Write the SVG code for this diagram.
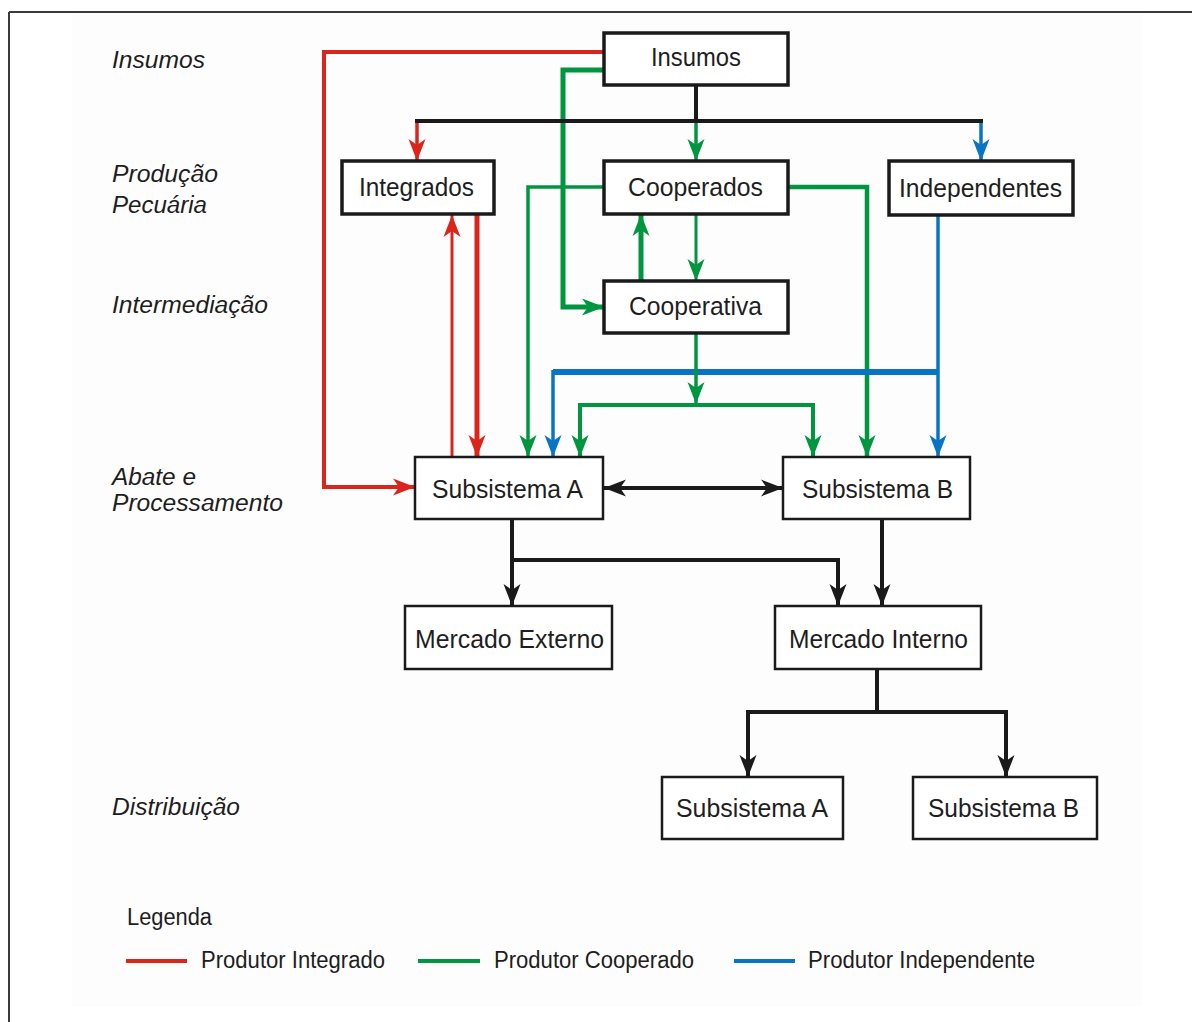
<svg xmlns="http://www.w3.org/2000/svg" width="1192" height="1022" viewBox="0 0 1192 1022">
<style>
.bg{fill:#ffffff}
.box{fill:#ffffff;stroke:#1a1a1a;stroke-width:3.5}
.box2{fill:#ffffff;stroke:#1a1a1a;stroke-width:2.5}
.t{font-family:"Liberation Sans",Arial,sans-serif;font-size:25px;fill:#1e1e1e}
.lbl{font-family:"Liberation Sans",Arial,sans-serif;font-size:23px;font-style:italic;fill:#1e1e1e}
.lg{font-family:"Liberation Sans",Arial,sans-serif;font-size:23px;fill:#1e1e1e}
.c{fill:none;stroke-linejoin:miter}
.r{stroke:#da251d}
.g{stroke:#009640}
.b{stroke:#0a74c4}
.k{stroke:#1a1a1a}
</style>
<defs>
<marker id="ar" markerUnits="userSpaceOnUse" markerWidth="22" markerHeight="18" viewBox="0 0 22 18" refX="22" refY="9" orient="auto"><path d="M0,0.5 L22,9 L0,17.5 L6,9 z" fill="#da251d"/></marker>
<marker id="ag" markerUnits="userSpaceOnUse" markerWidth="22" markerHeight="18" viewBox="0 0 22 18" refX="22" refY="9" orient="auto"><path d="M0,0.5 L22,9 L0,17.5 L6,9 z" fill="#009640"/></marker>
<marker id="ab" markerUnits="userSpaceOnUse" markerWidth="22" markerHeight="18" viewBox="0 0 22 18" refX="22" refY="9" orient="auto"><path d="M0,0.5 L22,9 L0,17.5 L6,9 z" fill="#0a74c4"/></marker>
<marker id="ak" markerUnits="userSpaceOnUse" markerWidth="22" markerHeight="18" viewBox="0 0 22 18" refX="22" refY="9" orient="auto"><path d="M0,0.5 L22,9 L0,17.5 L6,9 z" fill="#1a1a1a"/></marker>
<marker id="aks" markerUnits="userSpaceOnUse" markerWidth="22" markerHeight="18" viewBox="0 0 22 18" refX="22" refY="9" orient="auto-start-reverse"><path d="M0,0.5 L22,9 L0,17.5 L6,9 z" fill="#1a1a1a"/></marker>
</defs>
<rect class="bg" x="0" y="0" width="1192" height="1022"/>
<rect x="72" y="14" width="1070" height="993" fill="#fdfdfd"/>
<g id="frame" stroke="#3a3a3a" stroke-width="2" fill="none">
<line x1="9" y1="12" x2="1192" y2="12"/>
<line x1="9" y1="12" x2="9" y2="1022"/>
</g>

<g id="labels">
<text class="lbl" x="112" y="68" textLength="93" lengthAdjust="spacingAndGlyphs">Insumos</text>
<text class="lbl" x="112" y="182" textLength="106" lengthAdjust="spacingAndGlyphs">Produção</text>
<text class="lbl" x="112" y="213" textLength="95" lengthAdjust="spacingAndGlyphs">Pecuária</text>
<text class="lbl" x="112" y="313" textLength="156" lengthAdjust="spacingAndGlyphs">Intermediação</text>
<text class="lbl" x="112" y="485" textLength="84" lengthAdjust="spacingAndGlyphs">Abate e</text>
<text class="lbl" x="112" y="511" textLength="171" lengthAdjust="spacingAndGlyphs">Processamento</text>
<text class="lbl" x="112" y="815" textLength="128" lengthAdjust="spacingAndGlyphs">Distribuição</text>
</g>

<g id="connectors">
<path class="c r" stroke-width="4" d="M604,52 H324 V487 H415" marker-end="url(#ar)"/>
<path class="c g" stroke-width="5" d="M604,70 H563 V307 H604" marker-end="url(#ag)"/>
<path class="c k" stroke-width="4" d="M696,85 V121"/>
<path class="c k" stroke-width="4" d="M415,121 H983"/>
<path class="c r" stroke-width="3.5" d="M417,123 V161" marker-end="url(#ar)"/>
<path class="c g" stroke-width="3.5" d="M696,123 V161" marker-end="url(#ag)"/>
<path class="c b" stroke-width="3.5" d="M981,123 V161" marker-end="url(#ab)"/>
<path class="c g" stroke-width="3.5" d="M604,187 H528 V457" marker-end="url(#ag)"/>
<path class="c g" stroke-width="4.5" d="M788,187 H867 V457" marker-end="url(#ag)"/>
<path class="c r" stroke-width="3" d="M452,457 V215" marker-end="url(#ar)"/>
<path class="c r" stroke-width="5" d="M477,215 V457" marker-end="url(#ar)"/>
<path class="c g" stroke-width="5" d="M641,281 V214" marker-end="url(#ag)"/>
<path class="c g" stroke-width="3" d="M696,214 V281" marker-end="url(#ag)"/>
<path class="c b" stroke-width="3.5" d="M938,216 V457" marker-end="url(#ab)"/>
<path class="c b" stroke-width="6" d="M938,372 H553"/>
<path class="c b" stroke-width="3.5" d="M553,370 V457" marker-end="url(#ab)"/>
<path class="c g" stroke-width="3.5" d="M696,333 V404" marker-end="url(#ag)"/>
<path class="c g" stroke-width="4" d="M580,430 V405 H813 V430"/>
<path class="c g" stroke-width="4" d="M580,420 V457" marker-end="url(#ag)"/>
<path class="c g" stroke-width="4" d="M813,420 V457" marker-end="url(#ag)"/>
<path class="c k" stroke-width="4" d="M604,488 H783" marker-start="url(#aks)" marker-end="url(#ak)"/>
<path class="c k" stroke-width="4" d="M512,519 V606" marker-end="url(#ak)"/>
<path class="c k" stroke-width="4" d="M512,560 H838 V606" marker-end="url(#ak)"/>
<path class="c k" stroke-width="4" d="M882,519 V606" marker-end="url(#ak)"/>
<path class="c k" stroke-width="4" d="M877,669 V712"/>
<path class="c k" stroke-width="4" d="M748,750 V712 H1006 V750"/>
<path class="c k" stroke-width="4" d="M748,740 V777" marker-end="url(#ak)"/>
<path class="c k" stroke-width="4" d="M1006,740 V777" marker-end="url(#ak)"/>
</g>

<g id="n-insumos"><rect class="box" x="604" y="33" width="184" height="52"/><text class="t" x="651" y="66" textLength="90" lengthAdjust="spacingAndGlyphs">Insumos</text></g>
<g id="n-integrados"><rect class="box" x="342" y="161" width="152" height="53"/><text class="t" x="359" y="196" textLength="115" lengthAdjust="spacingAndGlyphs">Integrados</text></g>
<g id="n-cooperados"><rect class="box" x="604" y="161" width="184" height="53"/><text class="t" x="628" y="196" textLength="135" lengthAdjust="spacingAndGlyphs">Cooperados</text></g>
<g id="n-independentes"><rect class="box" x="889" y="161" width="184" height="54"/><text class="t" x="899" y="197" textLength="163" lengthAdjust="spacingAndGlyphs">Independentes</text></g>
<g id="n-cooperativa"><rect class="box" x="604" y="281" width="184" height="52"/><text class="t" x="629" y="315" textLength="133" lengthAdjust="spacingAndGlyphs">Cooperativa</text></g>
<g id="n-subA"><rect class="box2" x="415" y="457" width="188" height="62"/><text class="t" x="432" y="498" textLength="151" lengthAdjust="spacingAndGlyphs">Subsistema A</text></g>
<g id="n-subB"><rect class="box2" x="783" y="457" width="187" height="62"/><text class="t" x="802" y="498" textLength="151" lengthAdjust="spacingAndGlyphs">Subsistema B</text></g>
<g id="n-mext"><rect class="box2" x="405" y="606" width="207" height="63"/><text class="t" x="415" y="648" textLength="189" lengthAdjust="spacingAndGlyphs">Mercado Externo</text></g>
<g id="n-mint"><rect class="box2" x="775" y="606" width="206" height="63"/><text class="t" x="789" y="648" textLength="179" lengthAdjust="spacingAndGlyphs">Mercado Interno</text></g>
<g id="n-dsubA"><rect class="box2" x="662" y="777" width="181" height="62"/><text class="t" x="676" y="817" textLength="152" lengthAdjust="spacingAndGlyphs">Subsistema A</text></g>
<g id="n-dsubB"><rect class="box2" x="913" y="777" width="184" height="62"/><text class="t" x="928" y="817" textLength="151" lengthAdjust="spacingAndGlyphs">Subsistema B</text></g>

<g id="legend">
<text class="lg" x="127" y="925" textLength="85" lengthAdjust="spacingAndGlyphs">Legenda</text>
<line x1="126" y1="961" x2="187" y2="961" stroke="#da251d" stroke-width="4"/>
<text class="lg" x="201" y="968" textLength="184" lengthAdjust="spacingAndGlyphs">Produtor Integrado</text>
<line x1="418" y1="961" x2="480" y2="961" stroke="#009640" stroke-width="4"/>
<text class="lg" x="494" y="968" textLength="200" lengthAdjust="spacingAndGlyphs">Produtor Cooperado</text>
<line x1="734" y1="961" x2="795" y2="961" stroke="#0a74c4" stroke-width="4"/>
<text class="lg" x="808" y="968" textLength="227" lengthAdjust="spacingAndGlyphs">Produtor Independente</text>
</g>
</svg>
